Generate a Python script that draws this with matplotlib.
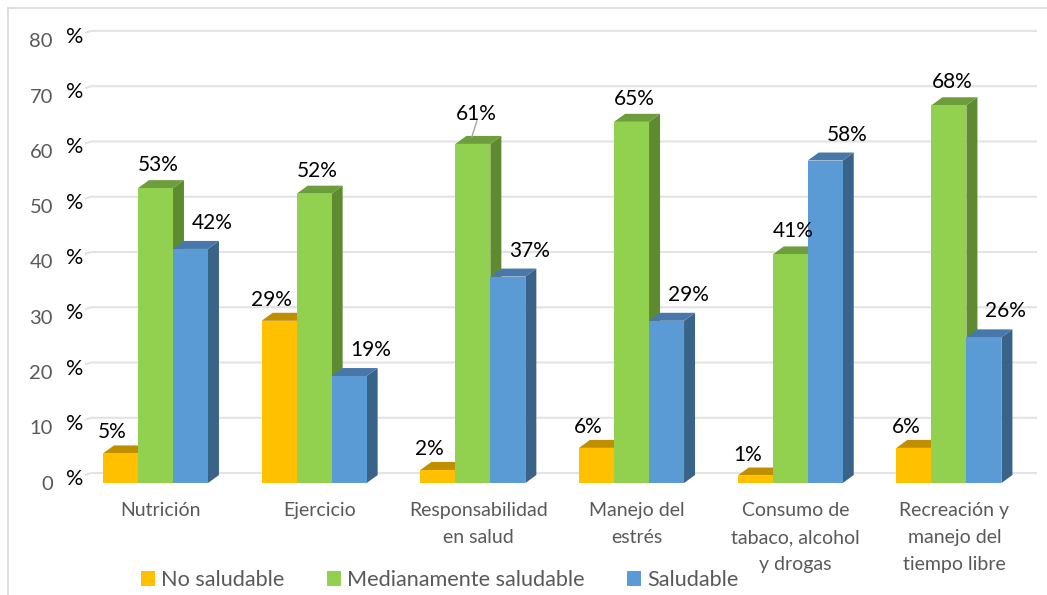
import matplotlib.pyplot as plt
from matplotlib.patches import Polygon, Rectangle, Patch
from matplotlib.lines import Line2D
from matplotlib.transforms import blended_transform_factory

plt.rcParams['font.family'] = ['Lato', 'DejaVu Sans']

categories = ['Nutrición', 'Ejercicio', 'Responsabilidad\nen salud', 'Manejo del\nestrés',
              'Consumo de\ntabaco, alcohol\ny drogas', 'Recreación y\nmanejo del\ntiempo libre']
series_names = ['No saludable', 'Medianamente saludable', 'Saludable']
no_saludable = [5, 29, 2, 6, 1, 6]
medianamente = [53, 52, 61, 65, 41, 68]
saludable = [42, 19, 37, 29, 58, 26]
yticks = [0, 10, 20, 30, 40, 50, 60, 70, 80]

data = [no_saludable, medianamente, saludable]
front_c = ['#FFC000', '#92D050', '#5B9BD5']
top_c = ['#BF8F00', '#6E9E3B', '#4878AA']
side_c = ['#A37A00', '#5E8A30', '#3A6389']

fig = plt.figure(figsize=(10.47, 5.95), dpi=100)
ax = fig.add_axes([85 / 1047, 0.1771, 952 / 1047, 0.7802])
ax.set_xlim(-0.444, 5.555)
ax.set_ylim(-3, 81)
ax.set_axis_off()

PX_X = 5.999 / 952   # data units per pixel
PX_Y = 84 / 464.2
W = 35 * PX_X
DX = 11 * PX_X
DY = 8 * PX_Y
BASE = -10 * PX_Y

# back wall gridlines with a small kink at the left side wall
x0g, x1g = ax.get_xlim()
for t in yticks:
    ax.plot([x0g, x0g + 6 * PX_X, x1g], [t - 2 * PX_Y, t, t], color='#e3e3e3', lw=1.5, zorder=1)

# pseudo 3D bars
for s, vals in enumerate(data):
    for i, v in enumerate(vals):
        xa = i + (s - 1.5) * W
        xb = xa + W
        ytop = v - DY
        ax.add_patch(Polygon([(xb, BASE), (xb + DX, BASE + DY), (xb + DX, v), (xb, ytop)],
                             closed=True, facecolor=side_c[s], edgecolor='none', zorder=2))
        ax.add_patch(Polygon([(xa, ytop), (xa + DX, v), (xb + DX, v), (xb, ytop)],
                             closed=True, facecolor=top_c[s], edgecolor='none', zorder=2))
        ax.add_patch(Rectangle((xa, BASE), W, ytop - BASE, facecolor=front_c[s],
                               edgecolor='none', zorder=2))

# value labels
lab_dx = [-8, 3, 22]
lab_gap = [7, 9, 12]
leader = {(1, 2)}
for s, vals in enumerate(data):
    for i, v in enumerate(vals):
        xc = i + (s - 1) * W + lab_dx[s] * PX_X
        gap = lab_gap[s]
        if (s, i) in leader:
            gap = 16
        ax.text(xc, v + gap * PX_Y, f'{v}%', ha='center', va='baseline',
                fontsize=15, color='black', zorder=4)
        if (s, i) in leader:
            ax.plot([xc + 1 * PX_X, xc - 4 * PX_X], [v + 15 * PX_Y, v - 1 * PX_Y],
                    color='#a6a6a6', lw=1, zorder=3)

# y tick labels
tr = blended_transform_factory(fig.transFigure, ax.transData)
for t in yticks:
    ax.text(53 / 1047, t - 11 * PX_Y, str(t), transform=tr, ha='right', va='center',
            fontsize=14.5, color='#595959')
    ax.text(66 / 1047, t - 6 * PX_Y, '%', transform=tr, ha='left', va='center',
            fontsize=15.5, color='black')

# category labels
for i, c in enumerate(categories):
    ax.text(i + DX / 2, BASE - 19 * PX_Y, c, ha='center', va='top', fontsize=14,
            color='#595959', linespacing=1.72)

handles = [Patch(facecolor=front_c[s], edgecolor='none') for s in range(3)]
fig.legend(handles, series_names, loc='center', bbox_to_anchor=(440 / 1047, 1 - 580 / 595),
           ncol=3, frameon=False, fontsize=15.6, handlelength=0.65, handleheight=0.65,
           handletextpad=0.28, columnspacing=1.95, labelcolor='#595959')

# chart area border (top and left edges visible)
fig.add_artist(Line2D([8 / 1047, 1], [1 - 8 / 595, 1 - 8 / 595], color='#d9d9d9', lw=1.2))
fig.add_artist(Line2D([8 / 1047, 8 / 1047], [0, 1 - 8 / 595], color='#d9d9d9', lw=1.2))

fig.savefig('out.png', dpi=100)
